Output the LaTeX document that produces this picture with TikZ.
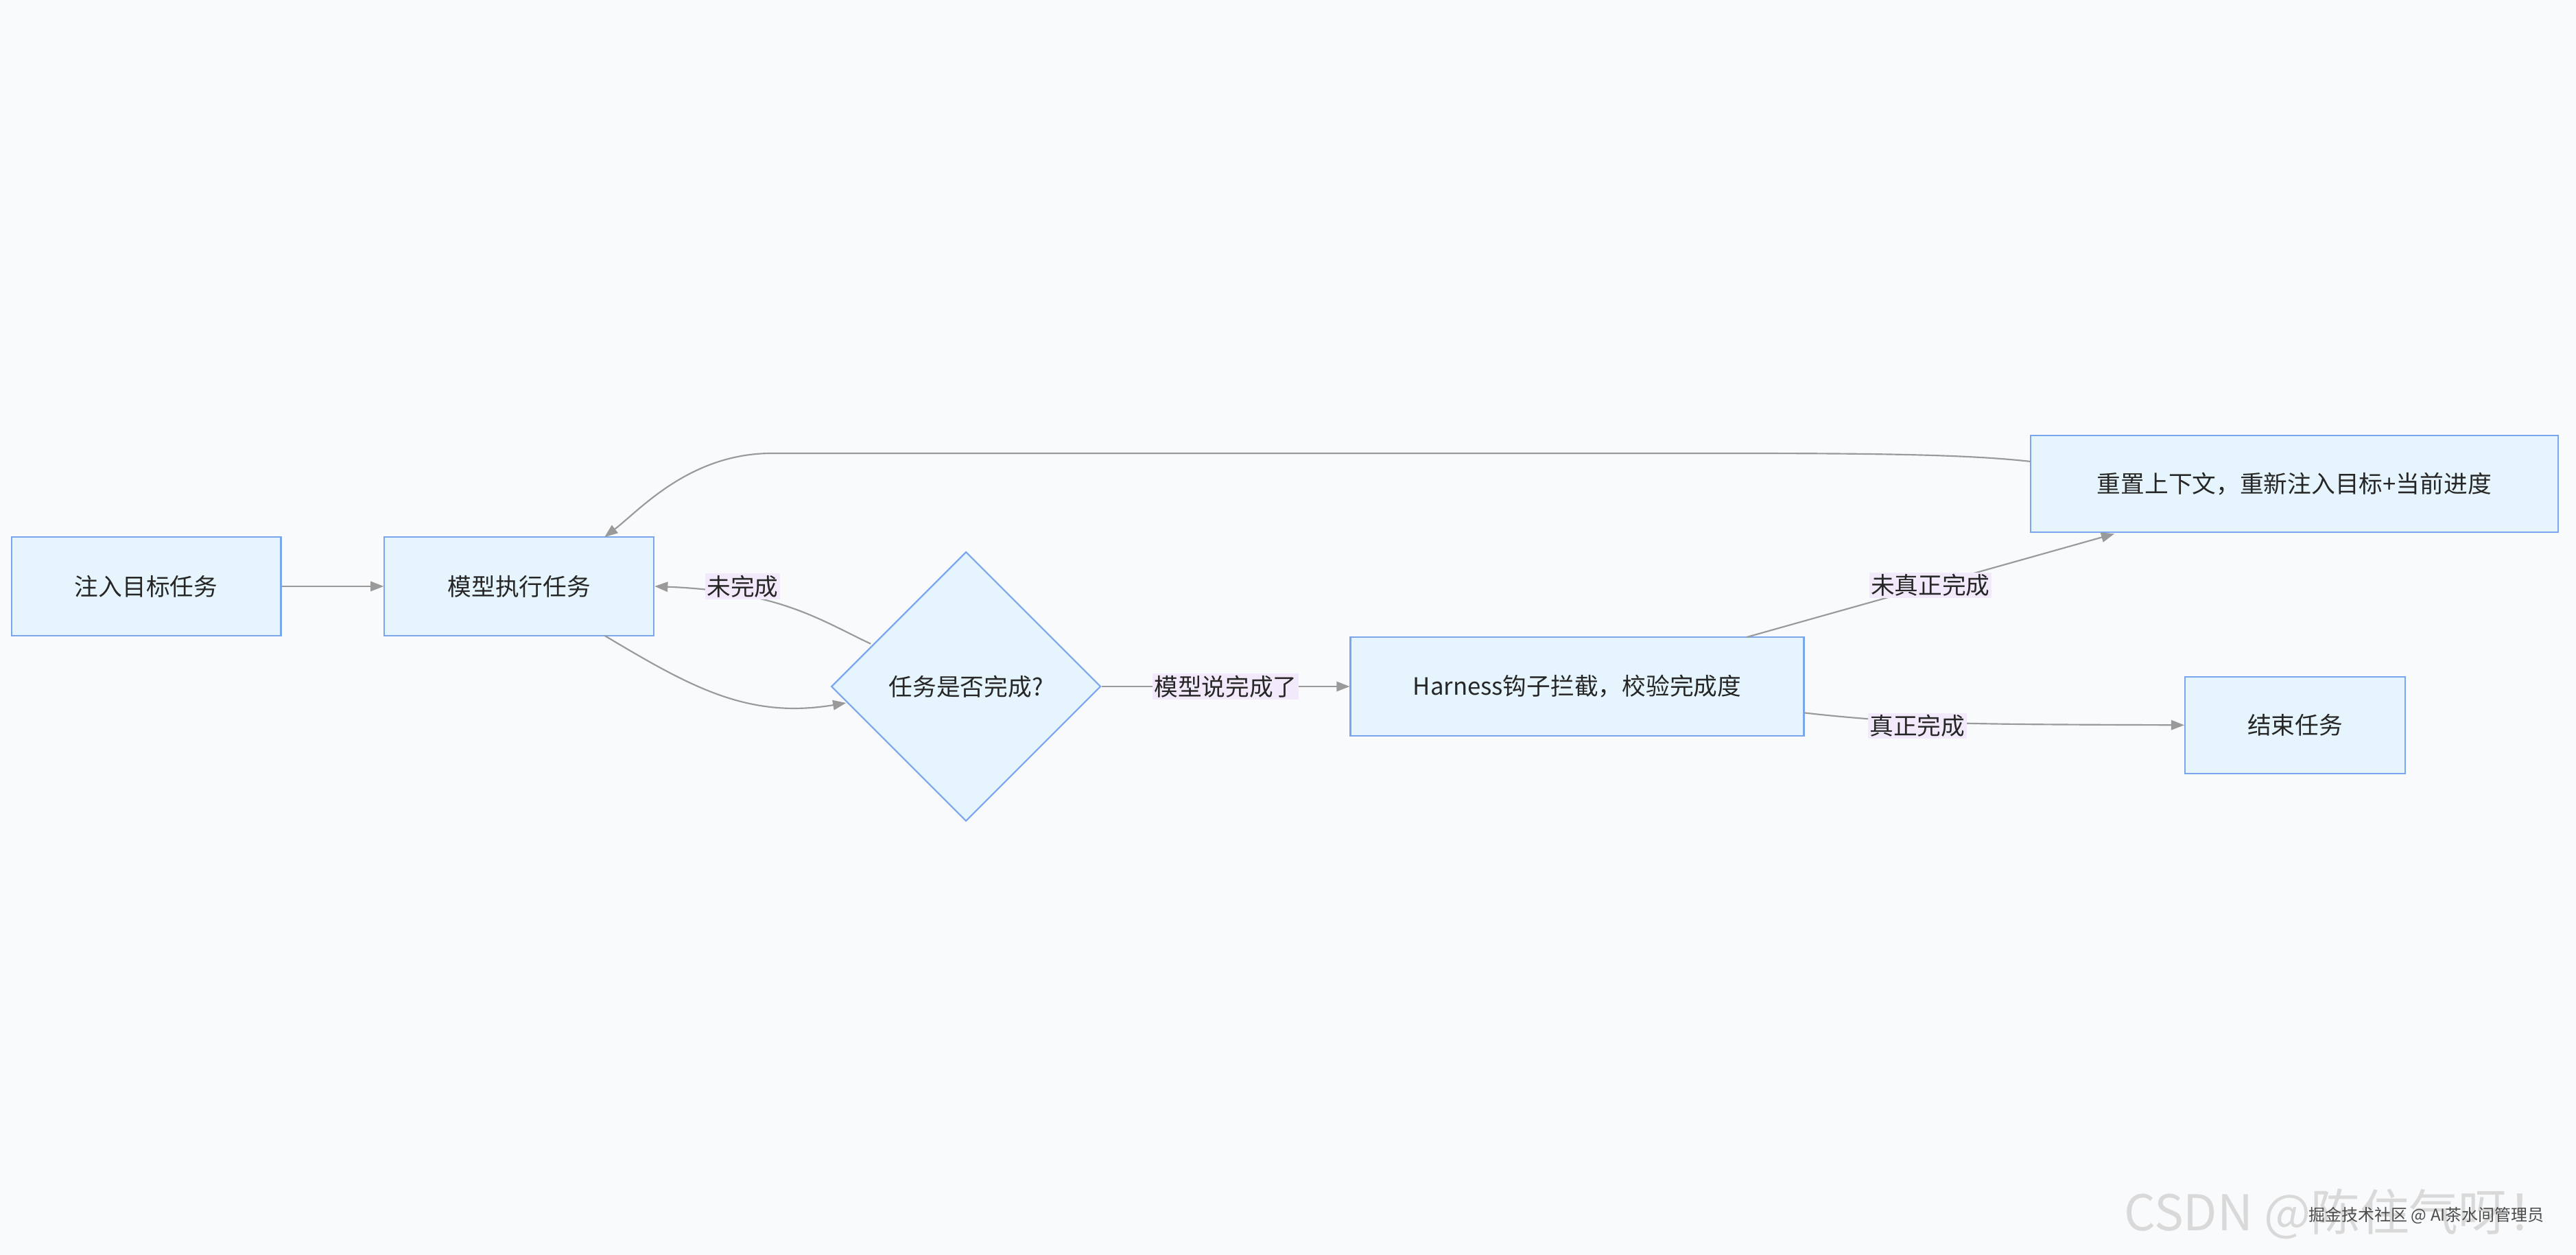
\documentclass[tikz,border=0pt]{standalone}
\usepackage{fontspec}
\setmainfont{Noto Sans CJK SC}
\usetikzlibrary{shapes.geometric,arrows.meta}
\definecolor{bg}{HTML}{F8FAFC}
\definecolor{nf}{HTML}{E6F5FD}
\definecolor{nd}{HTML}{7AA6EE}
\definecolor{lb}{HTML}{F2EAFA}
\definecolor{ed}{HTML}{9A9A9A}
\begin{document}
\begin{tikzpicture}[x=1pt,y=-1pt,
  box/.style={draw=nd,fill=nf,line width=0.9pt,minimum height=60pt,inner sep=0pt,font=\fontsize{14.5}{17}\selectfont,text=black!85},
  dia/.style={diamond,draw=nd,fill=nf,line width=0.9pt,minimum width=164pt,minimum height=164pt,inner sep=0pt,font=\fontsize{14.5}{17}\selectfont,text=black!85},
  ar/.style={draw=ed,line width=0.9pt,-{Triangle[length=8pt,width=6pt]}},
  lab/.style={fill=lb,inner sep=1pt,font=\fontsize{14.5}{17}\selectfont,text=black!85}]
\fill[bg] (0,0) rectangle (1568,764);
\useasboundingbox (0,0) rectangle (1568,764);
\node[box,minimum width=164pt] (A) at (89,357) {注入目标任务};
\node[box,minimum width=164pt] (B) at (316,357) {模型执行任务};
\node[dia] (C) at (588,418) {任务是否完成?};
\node[box,minimum width=276pt] (D) at (960,418) {Harness钩子拦截，校验完成度};
\node[box,minimum width=321pt,minimum height=59pt] (E) at (1396.5,294.5) {重置上下文，重新注入目标+当前进度};
\node[box,minimum width=134pt,minimum height=59pt] (F) at (1397,441.5) {结束任务};
\coordinate (e1) at (1236,281);
\draw[ar] (A) -- (B);
\draw[ar] (368,387) .. controls (420,418) and (455,438) .. (515,428);
\draw[ar] (530,392) .. controls (500,378) and (475,360) .. (B.east);
\node[lab] at (452,357) {未完成};
\draw[ar] (C) -- (D) node[lab,midway] {模型说完成了};
\draw[ar] (1063,388) -- (1287,325) node[lab,pos=0.5] {未真正完成};
\draw[ar] (1098,434) .. controls (1160,441) and (1200,441) .. (F.west);
\node[lab] at (1167,442) {真正完成};
\draw[ar] (e1) .. controls (1200,277) and (1150,276) .. (1050,276) -- (470,276) .. controls (420,276) and (390,310) .. (368,327);
\node[text=black!15,font=\fontsize{30}{32}\selectfont,anchor=east] (w1) at (1560,739) {CSDN @陈住气呀！};
\node[text=black!70,font=\fontsize{10}{12}\selectfont,anchor=east] (w2) at (1552,740) {掘金技术社区 @ AI茶水间管理员};
\end{tikzpicture}
\end{document}
